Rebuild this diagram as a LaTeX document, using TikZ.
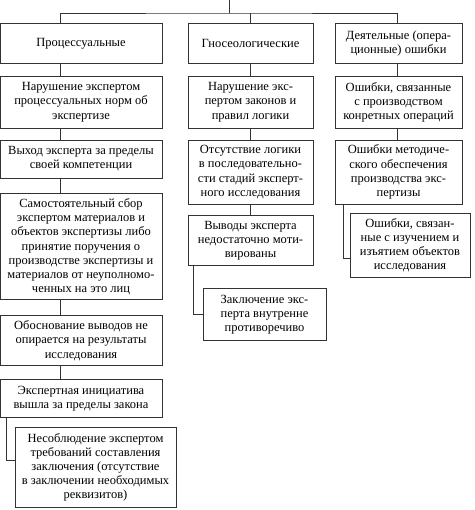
\documentclass[tikz,border=0pt]{standalone}
\usepackage{fontspec}
\setmainfont{Liberation Serif}
\usetikzlibrary{positioning}

\begin{document}
\begin{tikzpicture}[
  x=1pt, y=-1pt,
  font=\fontsize{12.5}{14.2}\selectfont,
  node distance = 12pt,
  box/.style = {rectangle, draw=black!80, line width=0.8pt, align=center,
                anchor=north, inner sep=2pt},
  pbox/.style = {box, minimum width=162pt},
  gbox/.style = {box, minimum width=125pt},
  dbox/.style = {box, minimum width=127pt},
  link/.style = {draw=black!80, line width=0.8pt}
]
\useasboundingbox (0,0) rectangle (474,510);

% Headers of the three groups
\node[pbox, minimum height=40pt] (p0) at (81,23) {Процессуальные};
\node[gbox, minimum height=40pt] (g0) at (250.5,23) {Гносеологические};
\node[dbox, minimum height=40pt] (d0) at (398.5,23) {Деятельные (опера-\\ционные) ошибки};

% Left column: procedural errors
\node[pbox, minimum height=52pt, below=12pt of p0] (p1)
  {Нарушение экспертом\\процессуальных норм об\\экспертизе};
\node[pbox, minimum height=38pt, below=11pt of p1] (p2)
  {Выход эксперта за пределы\\своей компетенции};
\node[pbox, minimum height=106pt, below=15pt of p2] (p3)
  {Самостоятельный сбор\\экспертом материалов и\\объектов экспертизы либо\\принятие поручения о\\производстве экспертизы и\\материалов от неуполномо-\\ченных на это лиц};
\node[pbox, minimum height=50pt, below=15pt of p3] (p4)
  {Обоснование выводов не\\опирается на результаты\\исследования};
\node[pbox, minimum height=38pt, below=13pt of p4] (p5)
  {Экспертная инициатива\\вышла за пределы закона};
\node[box, minimum width=161pt, minimum height=80pt] (p6) at (95.5,427)
  {Несоблюдение экспертом\\требований составления\\заключения (отсутствие\\в заключении необходимых\\реквизитов)};

% Middle column: gnoseological errors
\node[gbox, minimum height=52pt, below=of g0] (g1)
  {Нарушение экс-\\пертом законов и\\правил логики};
\node[gbox, minimum height=64pt, below=11pt of g1] (g2)
  {Отсутствие логики\\в последовательно-\\сти стадий эксперт-\\ного исследования};
\node[gbox, minimum height=50pt, below=11pt of g2] (g3)
  {Выводы эксперта\\недостаточно моти-\\вированы};
\node[box, minimum width=123pt, minimum height=52pt] (g4) at (264.5,288)
  {Заключение экс-\\перта внутренне\\противоречиво};

% Right column: operational errors
\node[dbox, minimum height=52pt, below=of d0] (d1)
  {Ошибки, связанные\\с производством\\конретных операций};
\node[dbox, minimum height=64pt, below=11pt of d1] (d2)
  {Ошибки методиче-\\ского обеспечения\\производства экс-\\пертизы};
\node[box, minimum width=120pt, minimum height=64pt] (d3) at (410,213)
  {Ошибки, связан-\\ные с изучением и\\изъятием объектов\\исследования};

% Top bus
\coordinate (root) at (229,0);
\coordinate (bus) at (229,13);
\draw[link] (root) -- (bus);
\draw[link] ([xshift=-21pt]p0.north) |- (bus) -| ([xshift=-1.5pt]d0.north);
\draw[link] (g0.north) -- (g0.north |- bus);

% Column links
\foreach \a/\b in {p0/p1,p1/p2,p2/p3,p3/p4,p4/p5}
  \draw[link] ([xshift=-21pt]\a.south) -- ([xshift=-21pt]\b.north);
\foreach \a/\b in {g0/g1,g1/g2,g2/g3}
  \draw[link] (\a.south) -- (\b.north);
\foreach \a/\b in {d0/d1,d1/d2}
  \draw[link] ([xshift=-1.5pt]\a.south) -- ([xshift=-1.5pt]\b.north);

% Side branches
\draw[link] ([xshift=7pt]p5.south west) |- ([yshift=7pt]p6.west);
\draw[link] ([xshift=6pt]g3.south west) |- (g4.west);
\draw[link] ([xshift=9pt]d2.south west) |- ([yshift=-13pt]d3.west);

\end{tikzpicture}
\end{document}
